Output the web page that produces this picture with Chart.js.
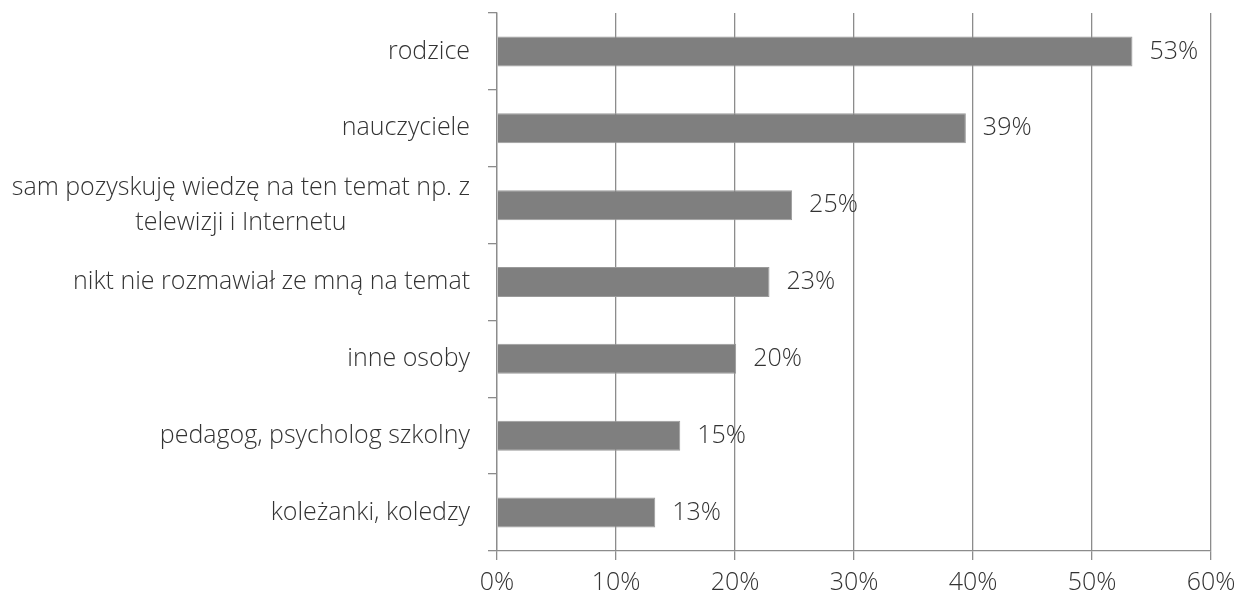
<!DOCTYPE html>
<html>
<head>
<meta charset="utf-8">
<script src="https://cdn.jsdelivr.net/npm/chart.js@4"></script>
<style>
  html, body { margin: 0; padding: 0; background: #fff; }
  #wrap { width: 1238px; height: 601px; position: relative; }
</style>
</head>
<body>
<div id="wrap"><canvas id="c"></canvas></div>
<script>
const categories = [
  "rodzice",
  "nauczyciele",
  ["sam pozyskuję wiedzę na ten temat np. z", "telewizji i Internetu"],
  "nikt nie rozmawiał ze mną na temat",
  "inne osoby",
  "pedagog, psycholog szkolny",
  "koleżanki, koledzy"
];
const values = [53.4, 39.4, 24.8, 22.9, 20.1, 15.4, 13.3];
const valueLabels = ["53%", "39%", "25%", "23%", "20%", "15%", "13%"];
const xTicks = [0, 10, 20, 30, 40, 50, 60];

const FONT = "'Open Sans', 'Noto Sans', sans-serif";
const FSIZE = 25;
const TXT = '#333333';

const yLabelPlugin = {
  id: 'yLabels',
  afterDraw(chart) {
    const ctx = chart.ctx;
    const ys = chart.scales.y;
    ctx.save();
    ctx.font = `300 ${FSIZE}px ${FONT}`;
    ctx.fillStyle = TXT;
    ctx.textBaseline = 'middle';
    const right = ys.right - 27;
    const lh = 35;
    categories.forEach((lab, i) => {
      const y = ys.getPixelForValue(i);
      const lines = Array.isArray(lab) ? lab : [lab];
      const w = Math.max(...lines.map(l => ctx.measureText(l).width));
      const cx = right - w / 2;
      ctx.textAlign = 'center';
      lines.forEach((l, k) => {
        const ly = y + (k - (lines.length - 1) / 2) * lh;
        ctx.fillText(l, cx, ly);
      });
    });
    ctx.restore();
  }
};

const valueLabelPlugin = {
  id: 'valueLabels',
  afterDatasetsDraw(chart) {
    const ctx = chart.ctx;
    const meta = chart.getDatasetMeta(0);
    ctx.save();
    ctx.font = `300 ${FSIZE}px ${FONT}`;
    ctx.fillStyle = TXT;
    ctx.textBaseline = 'middle';
    ctx.textAlign = 'left';
    meta.data.forEach((bar, i) => {
      ctx.fillText(valueLabels[i], bar.x + 17, bar.y);
    });
    ctx.restore();
  }
};

new Chart(document.getElementById('c'), {
  type: 'bar',
  data: {
    labels: categories,
    datasets: [{
      data: values,
      backgroundColor: '#7f7f7f',
      borderColor: '#9a9a9a',
      borderWidth: 1,
      barPercentage: 0.39,
      categoryPercentage: 1.0
    }]
  },
  options: {
    indexAxis: 'y',
    responsive: true,
    maintainAspectRatio: false,
    animation: false,
    layout: { padding: { top: 13, right: 27, left: 0, bottom: 0 } },
    plugins: { legend: { display: false }, tooltip: { enabled: false } },
    scales: {
      x: {
        min: 0, max: 60,
        afterBuildTicks(scale) { scale.ticks = xTicks.map(v => ({ value: v })); },
        grid: { color: '#8c8c8c', lineWidth: 1.3, tickLength: 9, drawTicks: true },
        border: { color: '#8c8c8c', width: 1.3 },
        ticks: {
          callback: v => v + '%',
          color: TXT,
          font: { family: FONT, size: FSIZE, weight: 300 },
          padding: 8,
          maxRotation: 0
        },
        afterFit(scale) { scale.height = 50; scale.paddingRight = 0; scale.paddingLeft = 0; }
      },
      y: {
        grid: { drawOnChartArea: false, color: '#8c8c8c', lineWidth: 1.3, tickLength: 9, offset: true },
        border: { color: '#8c8c8c', width: 1.3 },
        ticks: { display: false },
        afterFit(scale) { scale.width = 497; }
      }
    }
  },
  plugins: [yLabelPlugin, valueLabelPlugin]
});
</script>
</body>
</html>
